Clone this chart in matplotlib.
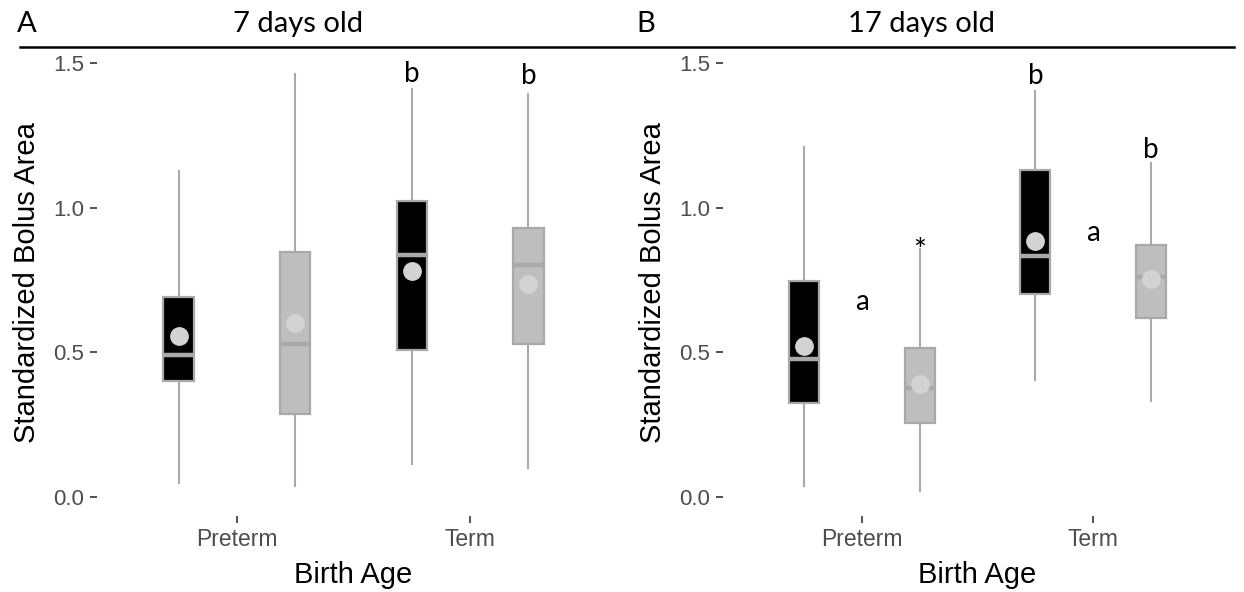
import matplotlib
matplotlib.use("Agg")
import matplotlib.pyplot as plt
from matplotlib.lines import Line2D

# ---- data ----
groups = ["Preterm", "Term"]
panels = ["7 days old", "17 days old"]
panel_tags = ["A", "B"]

# order: Preterm-black, Preterm-gray, Term-black, Term-gray
a_whislo = [0.049, 0.038, 0.115, 0.099]
a_q1     = [0.399, 0.286, 0.508, 0.530]
a_med    = [0.491, 0.528, 0.837, 0.802]
a_q3     = [0.690, 0.845, 1.024, 0.928]
a_whishi = [1.128, 1.463, 1.410, 1.394]
a_mean   = [0.557, 0.601, 0.782, 0.736]

b_whislo = [0.038, 0.020, 0.404, 0.330]
b_q1     = [0.323, 0.257, 0.701, 0.617]
b_med    = [0.478, 0.378, 0.834, 0.759]
b_q3     = [0.747, 0.514, 1.131, 0.871]
b_whishi = [1.209, 0.857, 1.402, 1.154]
b_mean   = [0.522, 0.392, 0.883, 0.753]

# significance letters: (x position, y baseline, text)
a_letters_x = [1.75, 2.25]
a_letters_y = [1.433, 1.426]
a_letters_t = ["b", "b"]
b_letters_x = [1.0, 1.25, 1.75, 2.0, 2.25]
b_letters_y = [0.647, 0.820, 1.429, 0.886, 1.173]
b_letters_t = ["a", "*", "b", "a", "b"]

yticks = [0.0, 0.5, 1.0, 1.5]
ytick_labels = ["0.0", "0.5", "1.0", "1.5"]

W, H = 1244, 592
fig = plt.figure(figsize=(W / 100, H / 100), dpi=100)

sans = ["Liberation Sans", "DejaVu Sans"]
title_font = ["Lato", "DejaVu Sans"]
tick_col = "#4D4D4D"
edge_col = "#A9A9A9"
fills = ["#000000", "#BEBEBE", "#000000", "#BEBEBE"]
offsets = [-0.25, 0.25, -0.25, 0.25]
base = [1, 1, 2, 2]


def fx(px):
    return px / W


def fy(py):
    return 1 - py / H


panel_px = [(97, 610), (723, 1232)]
top_px, bot_px = 50, 516

datasets = [
    (a_whislo, a_q1, a_med, a_q3, a_whishi, a_mean, a_letters_x, a_letters_y, a_letters_t),
    (b_whislo, b_q1, b_med, b_q3, b_whishi, b_mean, b_letters_x, b_letters_y, b_letters_t),
]

for i, (lo, q1, med, q3, hi, mean, lx, ly, lt) in enumerate(datasets):
    l, r = panel_px[i]
    ax = fig.add_axes([fx(l), fy(bot_px), (r - l) / W, (bot_px - top_px) / H])
    for k in range(4):
        stats = [dict(med=med[k], q1=q1[k], q3=q3[k], whislo=lo[k], whishi=hi[k],
                      mean=mean[k], fliers=[])]
        ax.bxp(stats, positions=[base[k] + offsets[k]], widths=0.13,
               showmeans=True, showcaps=False, patch_artist=True,
               boxprops=dict(facecolor=fills[k], edgecolor=edge_col, linewidth=1.6),
               whiskerprops=dict(color=edge_col, linewidth=1.5),
               medianprops=dict(color=edge_col, linewidth=3.2, solid_capstyle="butt"),
               meanprops=dict(marker="o", markerfacecolor="#D3D3D3",
                              markeredgecolor="#D3D3D3", markersize=12.5),
               manage_ticks=False, zorder=2)
    for x, y, t in zip(lx, ly, lt):
        ax.text(x, y, t, ha="center", va="baseline",
                fontsize=22 if t == "*" else 20,
                family=title_font, color="black")
    ax.set_xlim(0.4, 2.6)
    ax.set_ylim(-0.066, 1.545)
    ax.set_xticks([1, 2])
    ax.set_xticklabels(groups, fontsize=16.5, color=tick_col, family=sans)
    ax.set_yticks(yticks)
    ax.set_yticklabels(ytick_labels, fontsize=16, color=tick_col, family=sans)
    ax.tick_params(axis="both", length=5, width=1.2, color="#333333", pad=4)
    for s in ax.spines.values():
        s.set_visible(False)
    ax.set_facecolor("none")

    # axis titles
    fig.text(fx(l - 70), fy(283), "Standardized Bolus Area", rotation=90,
             ha="center", va="center", fontsize=21, family=sans)
    fig.text(fx((l + r) / 2), fy(575), "Birth Age", ha="center", va="center",
             fontsize=21, family=sans)

# strip titles
fig.text(fx(27), fy(24), panel_tags[0], ha="center", va="center", fontsize=21, family=title_font)
fig.text(fx(298), fy(24), panels[0], ha="center", va="center", fontsize=21, family=title_font)
fig.text(fx(646), fy(24), panel_tags[1], ha="center", va="center", fontsize=21, family=title_font)
fig.text(fx(921), fy(24), panels[1], ha="center", va="center", fontsize=21, family=title_font)
fig.add_artist(Line2D([fx(20), fx(1234)], [fy(46.5), fy(46.5)], color="black", linewidth=1.8))

fig.savefig("out.png", dpi=100)
